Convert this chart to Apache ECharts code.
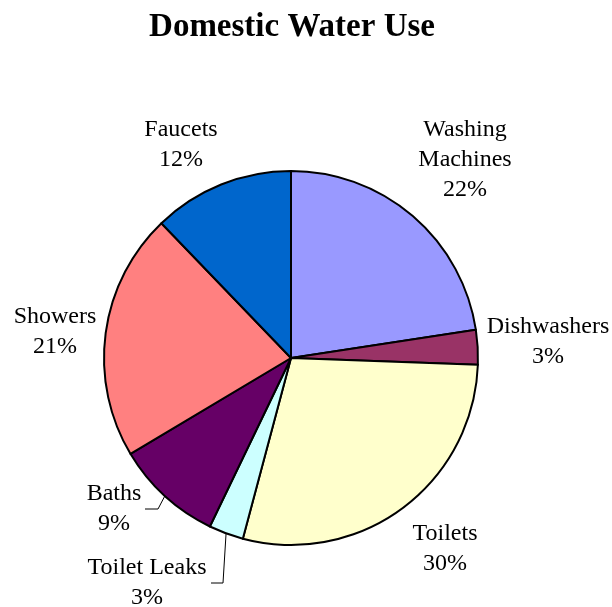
<!DOCTYPE html>
<html>
<head>
<meta charset="utf-8">
<script src="https://cdn.jsdelivr.net/npm/echarts@6/dist/echarts.min.js"></script>
<style>html,body{margin:0;padding:0;background:#fff;}#c{width:612px;height:607px;}</style>
</head>
<body>
<div id="c"></div>
<script>
const titleText = 'Domestic Water Use';
const categories = ['Washing\nMachines', 'Dishwashers', 'Toilets', 'Toilet Leaks', 'Baths', 'Showers', 'Faucets'];
const shares = [22.6, 3.0, 28.6, 3.0, 9.3, 21.4, 12.2];
const pctLabels = ['22%', '3%', '30%', '3%', '9%', '21%', '12%'];
const colors = ['#9999FF', '#993366', '#FFFFCC', '#CCFFFF', '#660066', '#FF8080', '#0066CC'];

const CX = 291, CY = 358, R = 187;
// label block centers
const labelPos = [[465, 160], [548, 342], [445, 549], [147, 583], [114, 509], [55, 332], [181, 145]];
// leader line bends/ends (only where the reference has leaders)
const leaders = {3: [[223, 583], [211, 583]], 4: [[158, 509], [145, 509]]};

const total = shares.reduce((a, b) => a + b, 0);
function midAngle(i) {
  let acc = 0;
  for (let k = 0; k < i; k++) acc += shares[k];
  const frac = (acc + shares[i] / 2) / total;
  return frac * 2 * Math.PI; // clockwise from top
}

const chart = echarts.init(document.getElementById('c'), null, {renderer: 'canvas'});
chart.setOption({
  animation: false,
  backgroundColor: '#fff',
  title: {
    text: titleText, left: 287, top: 6, textAlign: 'center',
    textStyle: {fontFamily: 'Liberation Serif', fontWeight: 'bold', fontSize: 33, color: '#000'}
  },
  series: [{
    type: 'pie',
    center: [CX, CY],
    radius: R,
    startAngle: 90,
    clockwise: true,
    avoidLabelOverlap: false,
    data: categories.map((c, i) => ({
      name: c, value: shares[i],
      itemStyle: {color: colors[i]},
      labelLine: {show: !!leaders[i]}
    })),
    itemStyle: {borderColor: '#000', borderWidth: 2},
    label: {
      show: true, position: 'outside',
      fontFamily: 'Liberation Serif', fontSize: 24, lineHeight: 30, color: '#000',
      align: 'center',
      formatter: p => p.name + '\n' + pctLabels[p.dataIndex]
    },
    labelLine: {lineStyle: {color: '#000', width: 1}, length: 10, length2: 10},
    labelLayout: function (p) {
      const i = p.dataIndex;
      const pos = labelPos[i];
      const out = {x: pos[0], y: pos[1], align: 'center', verticalAlign: 'middle'};
      if (leaders[i]) {
        const a = midAngle(i);
        const sx = CX + R * Math.sin(a), sy = CY - R * Math.cos(a);
        out.labelLinePoints = [[sx, sy], leaders[i][0], leaders[i][1]];
      }
      return out;
    }
  }]
});
</script>
</body>
</html>
